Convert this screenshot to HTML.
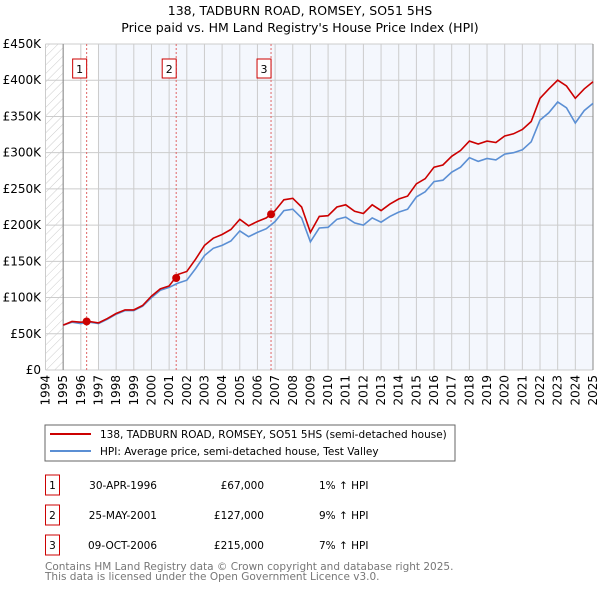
<!DOCTYPE html>
<html><head><meta charset="utf-8"><style>
body{margin:0;background:#fff;font-family:"DejaVu Sans","Liberation Sans",sans-serif;}
svg{display:block}
</style></head><body>
<svg id="c" width="600" height="590" xmlns="http://www.w3.org/2000/svg" font-family="DejaVu Sans, Liberation Sans, sans-serif">
<defs><pattern id="hatch" width="6" height="6" patternUnits="userSpaceOnUse" patternTransform="rotate(45)"><line x1="0" y1="0" x2="0" y2="6" stroke="#ccc" stroke-width="1"/></pattern></defs>
<text x="300" y="15" text-anchor="middle" font-size="12.5">138, TADBURN ROAD, ROMSEY, SO51 5HS</text>
<text x="300" y="32" text-anchor="middle" font-size="12.5">Price paid vs. HM Land Registry's House Price Index (HPI)</text>
<g id="plot"></g>
<rect x="45" y="425" width="410" height="36" fill="#fff" stroke="#666"/>
<g><line x1="50" y1="434" x2="91" y2="434" stroke="#cc0000" stroke-width="2"/><text x="100" y="438" font-size="10.5">138, TADBURN ROAD, ROMSEY, SO51 5HS (semi-detached house)</text></g>
<g><line x1="50" y1="451" x2="91" y2="451" stroke="#5b8fd4" stroke-width="2"/><text x="100" y="455" font-size="10.5">HPI: Average price, semi-detached house, Test Valley</text></g>
<g id="tbl" font-size="10.5"></g>
<text x="45" y="570" font-size="10.5" fill="#777">Contains HM Land Registry data © Crown copyright and database right 2025.</text>
<text x="45" y="580" font-size="10.5" fill="#777">This data is licensed under the Open Government Licence v3.0.</text>
</svg>
<script>
const years=[1995,1995.5,1996,1996.5,1997,1997.5,1998,1998.5,1999,1999.5,2000,2000.5,2001,2001.5,2002,2002.5,2003,2003.5,2004,2004.5,2005,2005.5,2006,2006.5,2007,2007.5,2008,2008.5,2009,2009.5,2010,2010.5,2011,2011.5,2012,2012.5,2013,2013.5,2014,2014.5,2015,2015.5,2016,2016.5,2017,2017.5,2018,2018.5,2019,2019.5,2020,2020.5,2021,2021.5,2022,2022.5,2023,2023.5,2024,2024.5,2025];
const hpi=[62,66,64,66,64,70,77,82,82,88,100,110,114,120,124,140,158,168,172,178,192,184,190,195,205,220,222,210,177,196,197,208,211,203,200,210,204,212,218,222,239,246,260,262,273,280,293,288,292,290,298,300,304,315,345,355,370,362,341,358,368];
const price=[62,67,66,67,65,71,78,83,83,89,102,112,116,132,136,153,172,182,187,194,208,199,205,210,220,235,237,225,190,212,213,225,228,219,216,228,220,229,236,240,257,264,280,283,295,303,316,312,316,314,323,326,332,343,375,388,400,392,375,388,398];
const saleYears=[1996.33,2001.4,2006.77];
const salePrices=[67,127,215];
const saleDates=["30-APR-1996","25-MAY-2001","09-OCT-2006"];
const salePriceLabels=["£67,000","£127,000","£215,000"];
const saleHpi=["1% ↑ HPI","9% ↑ HPI","7% ↑ HPI"];
const yTicks=[0,50,100,150,200,250,300,350,400,450];
const yTickLabels=["£0","£50K","£100K","£150K","£200K","£250K","£300K","£350K","£400K","£450K"];
const xTicks=[1994,1995,1996,1997,1998,1999,2000,2001,2002,2003,2004,2005,2006,2007,2008,2009,2010,2011,2012,2013,2014,2015,2016,2017,2018,2019,2020,2021,2022,2023,2024,2025];

const X0=45.5,X1=593,Y0=370,Y1=44;
const xs=y=>X0+(y-1994)/31*(X1-X0);
const ys=v=>Y0-v/450*(Y0-Y1);
const NS="http://www.w3.org/2000/svg";
const g=document.getElementById('plot');
function mk(tag,attrs,parent){const e=document.createElementNS(NS,tag);for(const k in attrs)e.setAttribute(k,attrs[k]);(parent||g).appendChild(e);return e;}
let r=mk('rect',{x:xs(1997),y:Y1,width:X1-xs(1997),height:Y0-Y1,fill:'#f4f7fd'});


r=mk('rect',{x:X0,y:Y1,width:xs(1995)-X0,height:Y0-Y1,fill:'url(#hatch)'});


yTicks.forEach((t,i)=>{
  const l=mk('line',{x1:X0,x2:X1,y1:ys(t),y2:ys(t),stroke:'#ccc','stroke-width':1});
  
  
  const tx=mk('text',{x:41,y:ys(t)+4,'text-anchor':'end','font-size':12});
  tx.textContent=yTickLabels[i];
  
  
});
xTicks.forEach(t=>{
  const l=mk('line',{x1:xs(t),x2:xs(t),y1:Y1,y2:Y0,stroke:'#ccc','stroke-width':1});
  
  
  const tx=mk('text',{x:0,y:0,'text-anchor':'end','font-size':12,transform:`translate(${xs(t)+4},375) rotate(-90)`});
  tx.textContent=t;
  
  
});
mk('line',{x1:xs(1995),x2:xs(1995),y1:Y1,y2:Y0,stroke:'#888'});
mk('line',{x1:X1,x2:X1,y1:Y1,y2:Y0,stroke:'#888'});
saleYears.forEach((s,i)=>{
  const l=mk('line',{x1:xs(s),x2:xs(s),y1:Y1,y2:Y0,stroke:'#e06666','stroke-dasharray':'2,2'});
  
  
  const b=mk('rect',{x:xs(s)-14,y:59,width:14,height:19,fill:'#fff',stroke:'#cc0000'});
  
  
  const tx=mk('text',{x:xs(s)-7,y:73,'text-anchor':'middle','font-size':11});
  tx.textContent=i+1;
});
const path=arr=>arr.map((v,i)=>(i?'L':'M')+xs(years[i]).toFixed(1)+','+ys(v).toFixed(1)).join('');
let p=mk('path',{d:path(hpi),fill:'none',stroke:'#5b8fd4','stroke-width':1.6});


p=mk('path',{d:path(price),fill:'none',stroke:'#cc0000','stroke-width':1.6});


saleYears.forEach((s,i)=>{
  const c=mk('circle',{cx:xs(s),cy:ys(salePrices[i]),r:4,fill:'#cc0000'});
  
  
});
const tb=document.getElementById('tbl');
saleDates.forEach((d,i)=>{
  const y=485+i*30;
  const row=mk('g',{},tb);
  
  
  mk('rect',{x:45.5,y:y-10,width:14,height:20,fill:'#fff',stroke:'#cc0000'},row);
  let t=mk('text',{x:52.5,y:y+4,'text-anchor':'middle'},row);t.textContent=i+1;
  t=mk('text',{x:157,y:y+4,'text-anchor':'end'},row);t.textContent=d;
  t=mk('text',{x:264,y:y+4,'text-anchor':'end'},row);t.textContent=salePriceLabels[i];
  t=mk('text',{x:319,y:y+4},row);t.textContent=saleHpi[i];
});
</script>
</body></html>
